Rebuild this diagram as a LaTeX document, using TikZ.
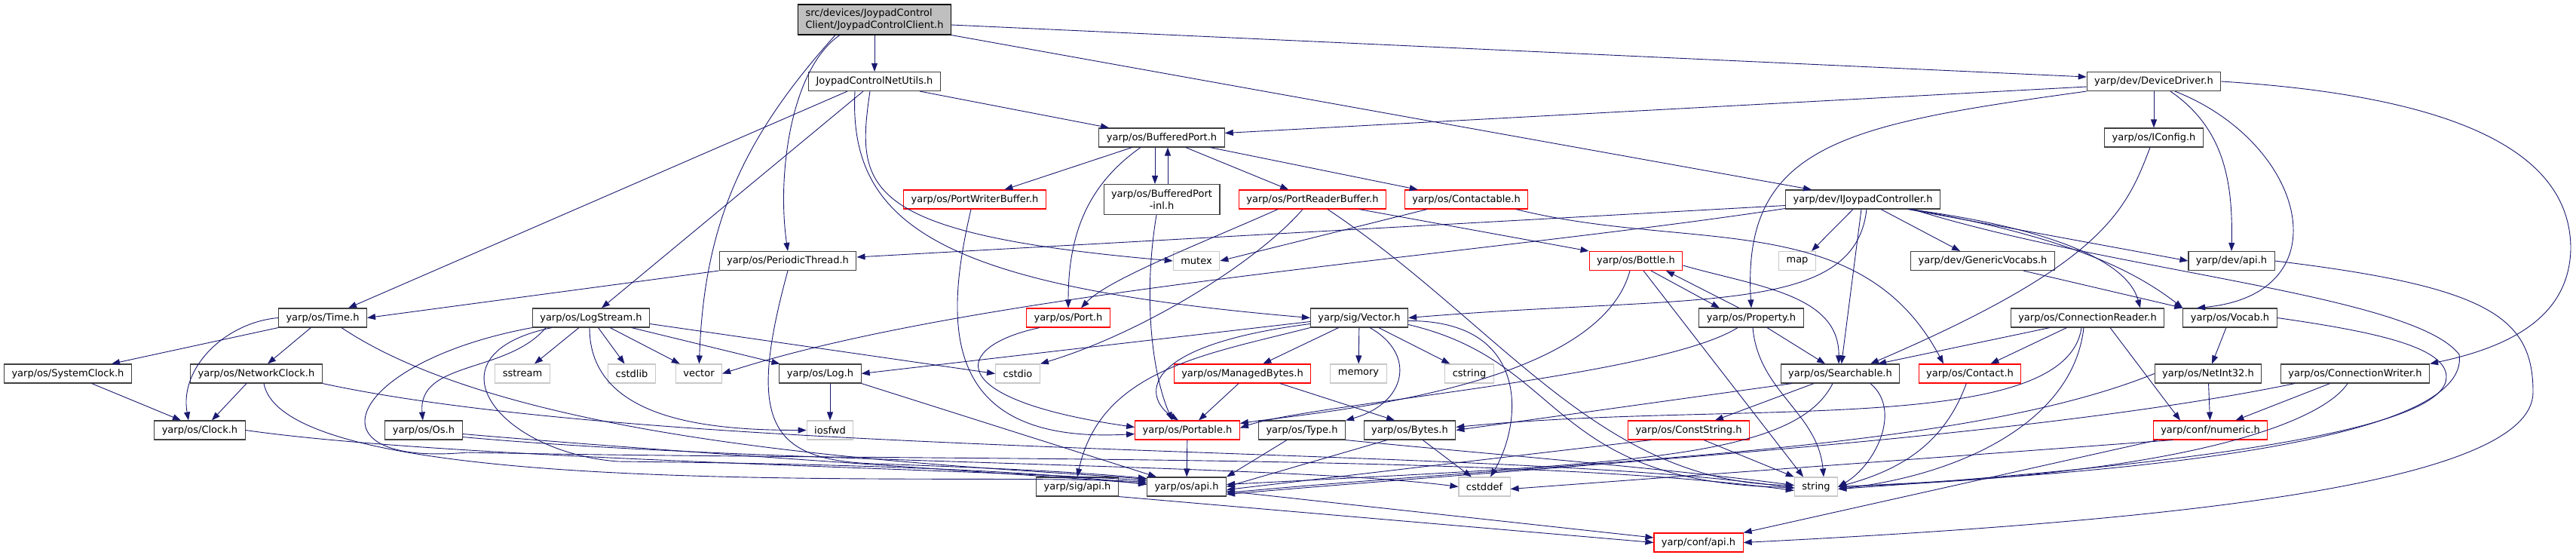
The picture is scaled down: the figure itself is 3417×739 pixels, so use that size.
\documentclass[tikz,border=0pt]{standalone}
\usepackage{fontspec}
\setmainfont{DejaVu Sans}
\usetikzlibrary{arrows.meta}
\definecolor{edgeblue}{HTML}{191970}
\definecolor{boxgrey}{HTML}{404040}
\definecolor{rootgrey}{HTML}{BFBFBF}
\definecolor{sysgrey}{HTML}{C8C8C8}
\definecolor{truncred}{HTML}{FF0000}

\tikzset{
  file/.style={draw=boxgrey, line width=1.1pt, fill=white, inner xsep=10pt, inner ysep=0pt, minimum height=25pt},
  rootfile/.style={file, draw=black, fill=rootgrey, minimum height=40pt, align=left},
  trunc/.style={file, draw=truncred},
  sys/.style={file, draw=sysgrey},
  dep/.style={draw=edgeblue, line width=0.9pt, -{Triangle[length=11pt,width=8pt]}},
}

\begin{document}
\begin{tikzpicture}[x=1pt, y=1pt, font=\fontsize{13}{15.5}\selectfont]
\useasboundingbox (0,0) rectangle (3417,-739);

% files, one rank after the other
\node[rootfile] (root) at (1160,-26) {src/devices/JoypadControl\\Client/JoypadControlClient.h};

\node[file] (netutils) at (1160,-108) {JoypadControlNetUtils.h};
\node[file] (devdriver) at (2857,-108) {yarp/dev/DeviceDriver.h};

\node[file] (bufport) at (1541,-182.5) {yarp/os/BufferedPort.h};
\node[file] (iconfig) at (2857,-182.5) {yarp/os/IConfig.h};

\node[trunc] (portwbuf) at (1293,-264.5) {yarp/os/PortWriterBuffer.h};
\node[file, minimum height=40pt, align=center] (bufinl) at (1541,-264.5) {yarp/os/BufferedPort\\-inl.h};
\node[trunc] (portrbuf) at (1741,-264.5) {yarp/os/PortReaderBuffer.h};
\node[trunc] (contactable) at (1945,-264.5) {yarp/os/Contactable.h};
\node[file] (joypad) at (2471,-264.5) {yarp/dev/IJoypadController.h};

\node[file] (periodic) at (1045,-346) {yarp/os/PeriodicThread.h};
\node[sys] (mutex) at (1587,-346) {mutex};
\node[trunc] (bottle) at (2170,-346) {yarp/os/Bottle.h};
\node[sys] (map) at (2384,-346) {map};
\node[file] (genvocabs) at (2630,-346) {yarp/dev/GenericVocabs.h};
\node[file] (devapi) at (2960,-346) {yarp/dev/api.h};

\node[file] (time) at (428,-421.5) {yarp/os/Time.h};
\node[file] (logstream) at (784,-421.5) {yarp/os/LogStream.h};
\node[trunc] (port) at (1417,-421.5) {yarp/os/Port.h};
\node[file] (sigvector) at (1803,-421.5) {yarp/sig/Vector.h};
\node[file] (property) at (2323,-421.5) {yarp/os/Property.h};
\node[file] (connreader) at (2769,-421.5) {yarp/os/ConnectionReader.h};
\node[file] (vocab) at (2958,-421.5) {yarp/os/Vocab.h};

\node[file] (sysclock) at (90,-495.5) {yarp/os/SystemClock.h};
\node[file] (netclock) at (340,-495.5) {yarp/os/NetworkClock.h};
\node[sys] (sstream) at (693,-495.5) {sstream};
\node[sys] (cstdlib) at (838,-495.5) {cstdlib};
\node[sys] (stdvector) at (927,-495.5) {vector};
\node[file] (log) at (1088,-495.5) {yarp/os/Log.h};
\node[sys] (cstdio) at (1350,-495.5) {cstdio};
\node[trunc] (managedbytes) at (1648,-495.5) {yarp/os/ManagedBytes.h};
\node[sys] (memory) at (1802,-495.5) {memory};
\node[sys] (cstring) at (1949,-495.5) {cstring};
\node[file] (searchable) at (2441,-495.5) {yarp/os/Searchable.h};
\node[trunc] (contact) at (2613,-495.5) {yarp/os/Contact.h};
\node[file] (netint) at (2929,-495.5) {yarp/os/NetInt32.h};
\node[file] (connwriter) at (3124,-495.5) {yarp/os/ConnectionWriter.h};

\node[file] (clock) at (265,-570.5) {yarp/os/Clock.h};
\node[file] (os) at (562,-570.5) {yarp/os/Os.h};
\node[sys] (iosfwd) at (1101,-570.5) {iosfwd};
\node[trunc] (portable) at (1575,-570.5) {yarp/os/Portable.h};
\node[file] (type) at (1727,-570.5) {yarp/os/Type.h};
\node[file] (bytes) at (1870,-570.5) {yarp/os/Bytes.h};
\node[trunc] (conststring) at (2240,-570.5) {yarp/os/ConstString.h};
\node[trunc] (numeric) at (2932,-570.5) {yarp/conf/numeric.h};

\node[file] (sigapi) at (1429,-645.5) {yarp/sig/api.h};
\node[file] (osapi) at (1574,-645.5) {yarp/os/api.h};
\node[sys] (cstddef) at (1969,-645.5) {cstddef};
\node[sys] (string) at (2409,-645.5) {string};

\node[trunc] (confapi) at (2253,-719.5) {yarp/conf/api.h};

% includes of the client header
\draw[dep] (root) -- (netutils);
\draw[dep] ([yshift=-7]root.east) -- ([yshift=6]devdriver.west);
\draw[dep] (root.south east) -- ([xshift=-68]joypad.north);
\draw[dep] ([xshift=-46]root.south) .. controls (1050,-90) and (1030,-230) .. (periodic.north);
\draw[dep] ([xshift=-52]root.south) to[out=228,in=88] (stdvector);

% JoypadControlNetUtils.h
\draw[dep] ([xshift=-36]netutils.south) -- ([xshift=34]time.north);
\draw[dep] ([xshift=-15]netutils.south) -- ([xshift=14]logstream.north);
\draw[dep] ([xshift=60]netutils.south) -- ([xshift=-70]bufport.north);
\draw[dep] ([xshift=-26]netutils.south) .. controls (1125,-300) and (1250,-380) .. (sigvector.west);
\draw[dep] ([xshift=-6]netutils.south) .. controls (1135,-250) and (1140,-310) .. (mutex.west);

% DeviceDriver.h
\draw[dep] ([yshift=-7]devdriver.west) -- ([yshift=6]bufport.east);
\draw[dep] (devdriver) -- (iconfig);
\draw[dep] ([xshift=22]devdriver.south) .. controls (2950,-170) and (2962,-240) .. (devapi.north);
\draw[dep] (devdriver.south west) .. controls (2450,-165) and (2310,-190) .. (property.north);
\draw[dep] ([xshift=28]devdriver.south) .. controls (3060,-190) and (3110,-390) .. ([xshift=-44]vocab.north);
\draw[dep] (devdriver.east) .. controls (3300,-130) and (3410,-220) .. (3410,-330) .. controls (3408,-420) and (3330,-460) .. (connwriter.north east);
\draw[dep] ([xshift=-5]iconfig.south) .. controls (2820,-280) and (2790,-350) .. ([xshift=40]searchable.north);

% BufferedPort.h
\draw[dep] (bufport) -- (portwbuf);
\draw[dep] ([xshift=-9]bufport.south) -- ([xshift=-9]bufinl.north);
\draw[dep] ([xshift=8]bufinl.north) -- ([xshift=8]bufport.south);
\draw[dep] (bufport) -- (portrbuf);
\draw[dep] (bufport) -- (contactable);
\draw[dep] ([xshift=-28]bufport.south) to[out=215,in=90] (port);
\draw[dep] ([xshift=-7]bufinl.south) .. controls (1515,-400) and (1530,-500) .. ([xshift=-20]portable.north);
\draw[dep] ([xshift=-5]portwbuf.south) .. controls (1255,-420) and (1240,-590) .. ([yshift=-5]portable.west);

\draw[dep] ([xshift=-46]portrbuf.south) .. controls (1600,-320) and (1470,-370) .. ([xshift=17]port.north);
\draw[dep] ([xshift=-13]portrbuf.south) .. controls (1670,-345) and (1520,-440) .. (cstdio.north east);
\draw[dep] ([xshift=62]portrbuf.south) -- (bottle.north west);
\draw[dep] ([xshift=20]portrbuf.south) .. controls (1990,-430) and (2120,-640) .. ([yshift=2]string.west);
\draw[dep] ([xshift=-52]contactable.south) -- (mutex.east);
\draw[dep] ([xshift=66]contactable.south) to[out=-14,in=118] ([xshift=-35]contact.north);

% IJoypadController.h
\draw[dep] ([yshift=-8]joypad.west) -- ([yshift=5]periodic.east);
\draw[dep] ([yshift=-12]joypad.west) .. controls (1950,-340) and (1300,-385) .. (stdvector.east);
\draw[dep] ([xshift=-13]joypad.south) -- ([xshift=19]map.north);
\draw[dep] ([xshift=24]joypad.south) -- ([xshift=-30]genvocabs.north);
\draw[dep] ([xshift=5]joypad.south) .. controls (2460,-420) and (2250,-390) .. (sigvector.east);
\draw[dep] ([xshift=-2]joypad.south) -- (searchable);
\draw[dep] ([xshift=60]joypad.south) -- (devapi.west);
\draw[dep] ([xshift=64]joypad.south) .. controls (2720,-310) and (2820,-350) .. (vocab.north west);
\draw[dep] ([xshift=62]joypad.south) .. controls (2700,-300) and (2820,-340) .. ([xshift=70]connreader.north);
\draw[dep] ([xshift=66]joypad.south) .. controls (2800,-360) and (3200,-390) .. (3262,-470) .. controls (3275,-560) and (3000,-620) .. (string.east);

\draw[dep] (periodic.south west) -- (time.east);
\draw[dep] (periodic.south) .. controls (990,-560) and (1020,-610) .. (1160,-615) .. controls (1300,-620) and (1420,-625) .. ([yshift=-2]osapi.north west);

% Bottle.h and Property.h
\draw[dep] ([xshift=20]bottle.south) -- ([xshift=-42]property.north);
\draw[dep] ([xshift=-16]property.north) -- ([xshift=40]bottle.south);
\draw[dep] ([yshift=-6]bottle.east) .. controls (2330,-380) and (2440,-390) .. ([xshift=-2]searchable.north);
\draw[dep] ([xshift=10]bottle.south) -- ([xshift=-17]string.north);
\draw[dep] ([xshift=-8]bottle.south) .. controls (2120,-515) and (1760,-545) .. ([yshift=-4]portable.north east);
\draw[dep] (property) -- ([xshift=-20]searchable.north);
\draw[dep] ([xshift=2]property.south) to[out=275,in=95] ([xshift=10]string.north);
\draw[dep] ([xshift=-18]property.south) .. controls (2200,-500) and (1740,-535) .. ([yshift=3]portable.east);

\draw[dep] ([xshift=54]genvocabs.south) -- (vocab.north west);
\draw[dep] (devapi.east) .. controls (3300,-380) and (3360,-420) .. (3360,-520) .. controls (3360,-640) and (2900,-690) .. (confapi.east);

% clocks
\draw[dep] (time.south west) -- ([xshift=58]sysclock.north);
\draw[dep] (time) -- ([xshift=15]netclock.north);
\draw[dep] (time.west) to[out=185,in=100] ([xshift=-15]clock.north);
\draw[dep] ([xshift=25]time.south) .. controls (700,-600) and (1300,-618) .. ([yshift=-3]osapi.north west);
\draw[dep] (sysclock) -- ([xshift=-25]clock.north);
\draw[dep] ([xshift=-13]netclock.south) -- ([xshift=16]clock.north);
\draw[dep] ([xshift=10]netclock.south) .. controls (380,-670) and (1300,-625) .. ([yshift=-7]osapi.north west);
\draw[dep] (netclock.south east) .. controls (900,-610) and (2000,-590) .. ([yshift=-2]string.west);
\draw[dep] (clock.east) .. controls (600,-610) and (1300,-622) .. ([yshift=-5]osapi.north west);

% LogStream.h and Log.h
\draw[dep] (logstream) -- (sstream);
\draw[dep] (logstream) -- (cstdlib);
\draw[dep] (logstream) -- (stdvector);
\draw[dep] (logstream) -- (log);
\draw[dep] ([xshift=-60]logstream.south) to[out=230,in=95] (os);
\draw[dep] ([xshift=-2]logstream.south) to[out=270,in=180] (iosfwd.west);
\draw[dep] ([yshift=-8]logstream.east) -- (cstdio.west);
\draw[dep] ([xshift=-52]logstream.south) .. controls (560,-470) and (660,-600) .. (820,-612) .. controls (1100,-615) and (1350,-622) .. ([yshift=-10]osapi.north west);
\draw[dep] (logstream.south west) .. controls (460,-480) and (400,-620) .. (620,-600) .. controls (1200,-612) and (2000,-600) .. ([yshift=-5]string.west);
\draw[dep] ([xshift=13]log.south) -- (iosfwd);
\draw[dep] (log.south east) -- ([xshift=-40]osapi.north);
\draw[dep] ([yshift=-5]os.east) .. controls (900,-600) and (1300,-625) .. ([yshift=-9]osapi.north west);
\draw[dep] ([yshift=-9]os.east) .. controls (1000,-615) and (1700,-615) .. (cstddef.west);

\draw[dep] ([xshift=-38]port.south) .. controls (1260,-460) and (1250,-530) .. ([yshift=4]portable.west);

% sig/Vector.h
\draw[dep] ([yshift=-5]sigvector.west) -- (log.east);
\draw[dep] ([yshift=-8]sigvector.west) .. controls (1500,-460) and (1520,-530) .. ([xshift=-12]portable.north);
\draw[dep] (sigvector.south west) .. controls (1600,-470) and (1460,-490) .. (sigapi.north);
\draw[dep] (sigvector) -- (managedbytes);
\draw[dep] (sigvector) -- (memory);
\draw[dep] (sigvector) -- (cstring);
\draw[dep] ([xshift=14]sigvector.south) .. controls (1880,-470) and (1865,-535) .. (type.north east);
\draw[dep] ([yshift=-4]sigvector.east) .. controls (2030,-425) and (2020,-560) .. ([xshift=8]cstddef.north);
\draw[dep] ([yshift=-9]sigvector.east) .. controls (2080,-480) and (2050,-640) .. ([yshift=-1]string.west);
\draw[dep] ([xshift=-5]managedbytes.south) -- ([xshift=15]portable.north);
\draw[dep] ([xshift=50]managedbytes.south) -- ([xshift=-20]bytes.north);

\draw[dep] (portable) -- (osapi);
\draw[dep] ([xshift=-20]type.south) -- (osapi.north east);
\draw[dep] (type.south east) .. controls (1950,-600) and (2200,-620) .. ([yshift=2]string.west);
\draw[dep] (bytes) -- (cstddef);
\draw[dep] ([xshift=-30]bytes.south) -- (osapi.east);

% Searchable.h and friends
\draw[dep] (searchable) -- (conststring);
\draw[dep] ([xshift=40]searchable.south) to[out=-40,in=30] (string.east);
\draw[dep] ([xshift=-10]searchable.south) .. controls (2380,-610) and (2150,-615) .. ([yshift=3]osapi.east);
\draw[dep] ([xshift=-64]searchable.south) -- (bytes.east);
\draw[dep] ([xshift=20]conststring.south) -- (string.north west);
\draw[dep] ([xshift=-50]conststring.south) -- ([yshift=-4]osapi.east);
\draw[dep] (contact) to[out=250,in=15] (string.east);

\draw[dep] ([xshift=-50]connreader.south) -- ([xshift=50]searchable.north);
\draw[dep] (connreader) -- (contact);
\draw[dep] ([xshift=-8]connreader.south) .. controls (2740,-580) and (2300,-530) .. ([yshift=4]bytes.east);
\draw[dep] ([xshift=-5]connreader.south) .. controls (2750,-560) and (2600,-630) .. ([yshift=-3]string.east);
\draw[dep] ([xshift=30]connreader.south) -- ([xshift=-40]numeric.north);

\draw[dep] (vocab) -- (netint);
\draw[dep] (vocab.east) .. controls (3150,-440) and (3245,-460) .. (3245,-500) .. controls (3245,-560) and (3000,-610) .. ([yshift=-3]string.east);
\draw[dep] (netint) -- (numeric);
\draw[dep] (netint.west) .. controls (2600,-600) and (2100,-610) .. ([yshift=-8]osapi.east);
\draw[dep] (connwriter) -- (numeric);
\draw[dep] ([xshift=-10]connwriter.south) .. controls (3080,-560) and (2900,-630) .. (string.east);
\draw[dep] ([xshift=-80]connwriter.south) .. controls (2700,-580) and (2100,-615) .. ([yshift=-10]osapi.east);
\draw[dep] ([xshift=-50]numeric.south) -- ([yshift=-3]cstddef.east);
\draw[dep] ([xshift=-70]numeric.south) -- (confapi.north east);

\draw[dep] (osapi) -- (confapi);
\draw[dep] (sigapi.south east) -- (confapi.west);
\end{tikzpicture}
\end{document}
